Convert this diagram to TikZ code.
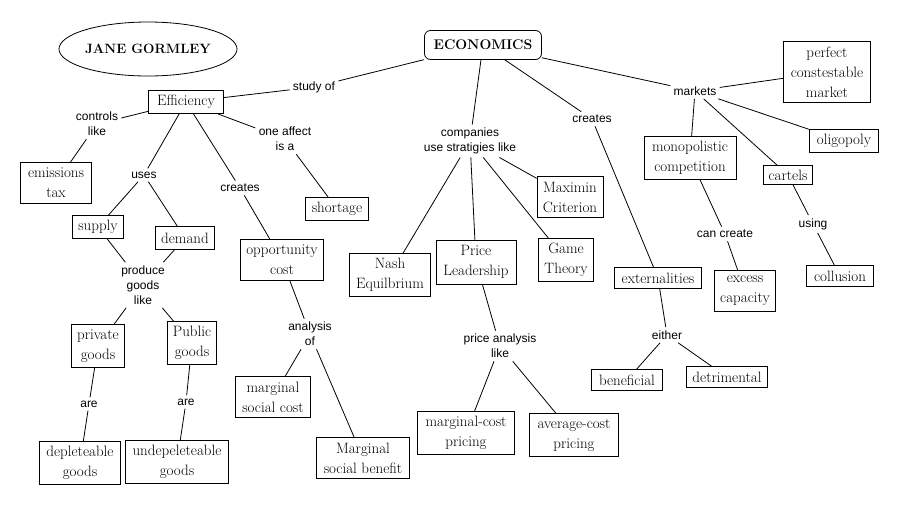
\documentclass[tikz,border=0pt]{standalone}
\usepackage{fontspec}
\newfontfamily\lblfont{Liberation Sans}
\usetikzlibrary{shapes.geometric}
\begin{document}
\begin{tikzpicture}[x=1pt,y=-1pt, line width=0.8pt,
  box/.style={draw, align=center, inner sep=1pt, font=\fontsize{15}{20}\selectfont},
  lbl/.style={align=center, inner sep=3pt, font=\lblfont\fontsize{12}{15}\selectfont},
  con/.style={draw, line width=0.8pt}]
\useasboundingbox (0,0) rectangle (900,507);
% titles
\node[draw, ellipse, minimum width=148pt, minimum height=54pt, inner sep=0pt, font=\fontsize{13.5}{16}\selectfont\bfseries] (jane) at (148,49) {JANE GORMLEY};
\node[draw, rounded corners=6pt, minimum width=117pt, minimum height=29pt, inner sep=1pt, font=\fontsize{14}{16}\selectfont\bfseries] (eco) at (483,45) {ECONOMICS};
% boxes
\node[box, minimum width=87pt, minimum height=61pt] (pcm) at (827,72) {perfect\\constestable\\market};
\node[box, minimum width=75pt, minimum height=23pt] (eff) at (186,102) {Efficiency};
\node[box, minimum width=71pt, minimum height=41pt] (emis) at (56,183) {emissions\\tax};
\node[box, minimum width=63pt, minimum height=23pt] (short) at (337,209) {shortage};
\node[box, minimum width=51pt, minimum height=23pt] (supply) at (98,227) {supply};
\node[box, minimum width=59pt, minimum height=23pt] (demand) at (185,238) {demand};
\node[box, minimum width=83pt, minimum height=41pt] (opp) at (282,260) {opportunity\\cost};
\node[box, minimum width=53pt, minimum height=43pt] (priv) at (98,346) {private\\goods};
\node[box, minimum width=49pt, minimum height=43pt] (pub) at (192,343) {Public\\goods};
\node[box, minimum width=75pt, minimum height=41pt] (msc) at (273,397) {marginal\\social cost};
\node[box, minimum width=93pt, minimum height=41pt] (msb) at (363,458) {Marginal\\social benefit};
\node[box, minimum width=81pt, minimum height=43pt] (depl) at (80,463) {depleteable\\goods};
\node[box, minimum width=103pt, minimum height=43pt] (undep) at (177,462) {undepeleteable\\goods};
\node[box, minimum width=66pt, minimum height=41pt] (maximin) at (570,197) {Maximin\\Criterion};
\node[box, minimum width=81pt, minimum height=43pt] (nash) at (390,275) {Nash\\Equilbrium};
\node[box, minimum width=80pt, minimum height=44pt] (price) at (476,262) {Price\\Leadership};
\node[box, minimum width=55pt, minimum height=43pt] (game) at (566,260) {Game\\Theory};
\node[box, minimum width=97pt, minimum height=43pt] (mcp) at (466,433) {marginal-cost\\pricing};
\node[box, minimum width=89pt, minimum height=43pt] (acp) at (574,435) {average-cost\\pricing};
\node[box, minimum width=87pt, minimum height=21pt] (ext) at (658,278) {externalities};
\node[box, minimum width=71pt, minimum height=21pt] (benef) at (627,380) {beneficial};
\node[box, minimum width=81pt, minimum height=21pt] (detr) at (727,377) {detrimental};
\node[box, minimum width=92pt, minimum height=43pt] (mono) at (690,158) {monopolistic\\competition};
\node[box, minimum width=69pt, minimum height=23pt] (olig) at (844,141) {oligopoly};
\node[box, minimum width=49pt, minimum height=19pt] (cartels) at (788,175) {cartels};
\node[box, minimum width=61pt, minimum height=41pt] (excess) at (745,291) {excess\\capacity};
\node[box, minimum width=67pt, minimum height=21pt] (coll) at (840,276) {collusion};
% labels
\node[lbl] (studyof) at (314,87) {study of};
\node[lbl] (controls) at (97,124) {controls\\like};
\node[lbl] (uses) at (144,175) {uses};
\node[lbl] (creates1) at (240,188) {creates};
\node[lbl] (affect) at (285,139) {one affect\\is a};
\node[lbl] (produce) at (143,285) {produce\\goods\\like};
\node[lbl] (analysis) at (310,334) {analysis\\of};
\node[lbl] (are1) at (89,404) {are};
\node[lbl] (are2) at (186,402) {are};
\node[lbl] (comp) at (470,141) {companies\\use stratigies like};
\node[lbl] (creates2) at (592,119) {creates};
\node[lbl] (pal) at (500,346) {price analysis\\like};
\node[lbl] (either) at (667,335) {either};
\node[lbl] (markets) at (695,91) {markets};
\node[lbl] (cancreate) at (725,234) {can create};
\node[lbl] (using) at (813,224) {using};
% connectors
\draw (eco) -- (studyof);
\draw (studyof) -- (eff);
\draw (eco) -- (comp);
\draw (eco) -- (creates2);
\draw (creates2) -- (ext);
\draw (eco) -- (markets);
\draw (markets) -- (pcm);
\draw (markets) -- (mono);
\draw (markets) -- (cartels);
\draw (markets) -- (olig);
\draw (mono) -- (cancreate);
\draw (cancreate) -- (excess);
\draw (cartels) -- (using);
\draw (using) -- (coll);
\draw (ext) -- (either);
\draw (either) -- (benef);
\draw (either) -- (detr);
\draw (comp) -- (nash);
\draw (comp) -- (price);
\draw (comp) -- (game);
\draw (comp) -- (maximin);
\draw (price) -- (pal);
\draw (pal) -- (mcp);
\draw (pal) -- (acp);
\draw (eff) -- (controls);
\draw (controls) -- (emis);
\draw (eff) -- (uses);
\draw (uses) -- (supply);
\draw (uses) -- (demand);
\draw (eff) -- (creates1);
\draw (creates1) -- (opp);
\draw (eff) -- (affect);
\draw (affect) -- (short);
\draw (supply) -- (produce);
\draw (demand) -- (produce);
\draw (produce) -- (priv);
\draw (produce) -- (pub);
\draw (priv) -- (are1);
\draw (are1) -- (depl);
\draw (pub) -- (are2);
\draw (are2) -- (undep);
\draw (opp) -- (analysis);
\draw (analysis) -- (msc);
\draw (analysis) -- (msb);
\end{tikzpicture}
\end{document}
